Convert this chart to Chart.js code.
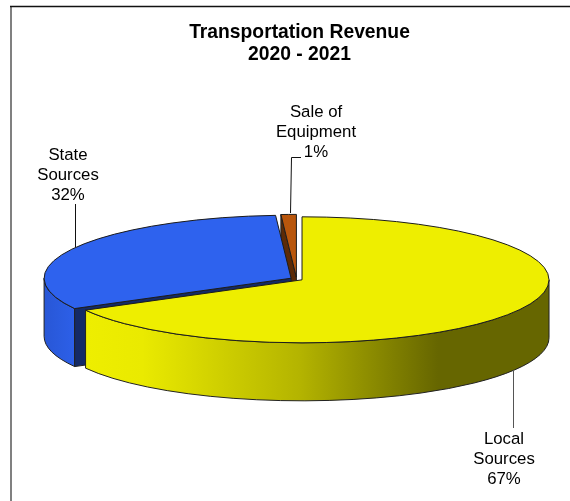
<!DOCTYPE html>
<html><head><meta charset="utf-8">
<style>html,body{margin:0;padding:0;background:#fff}#w{width:570px;height:501px}</style>
<script src="https://cdn.jsdelivr.net/npm/chart.js@4"></script>
</head><body><div id="w"><canvas id="c" width="570" height="501"></canvas></div>
<script>
const categories = ['Local Sources','State Sources','Sale of Equipment'];
const revenueShare = [67, 32, 1];
const percentLabels = ['67%','32%','1%'];
const sliceColors = ['#eeee00','#2e62ee','#b9560c'];
const cutFaceColors = ['#666600','#142a66','#5c2a06'];
const titleLines = ['Transportation Revenue','2020 - 2021'];

const CX=296.6, CY=279, RX=247, SQ=63/247, DEPTH=58, EXPLODE=6.3;
const labelFont='16.8px "Liberation Sans", Arial, sans-serif';

function geom(a){
  const mid=(a.startAngle+a.endAngle)/2;
  return {cx:CX+Math.cos(mid)*EXPLODE, cy:CY+Math.sin(mid)*EXPLODE*SQ, rx:a.outerRadius, ry:a.outerRadius*SQ, s:a.startAngle, e:a.endAngle};
}
function wall(ctx,g,a0,a1,fill){
  ctx.beginPath();
  ctx.ellipse(g.cx,g.cy,g.rx,g.ry,0,a0,a1);
  ctx.ellipse(g.cx,g.cy+DEPTH,g.rx,g.ry,0,a1,a0,true);
  ctx.closePath();
  ctx.fillStyle=fill;ctx.fill();
  ctx.lineWidth=1;ctx.strokeStyle='#222';ctx.stroke();
}
function cutFace(ctx,g,a,fill){
  const x=g.cx+Math.cos(a)*g.rx,y=g.cy+Math.sin(a)*g.ry;
  ctx.beginPath();
  ctx.moveTo(g.cx,g.cy);ctx.lineTo(x,y);ctx.lineTo(x,y+DEPTH);ctx.lineTo(g.cx,g.cy+DEPTH);ctx.closePath();
  ctx.fillStyle=fill;ctx.fill();
  ctx.lineWidth=1;ctx.strokeStyle='#222';ctx.stroke();
}
function leader(ctx,pts,color){
  ctx.beginPath();pts.forEach((p,i)=>i?ctx.lineTo(p[0],p[1]):ctx.moveTo(p[0],p[1]));
  ctx.lineWidth=1;ctx.strokeStyle=color;ctx.stroke();
}
const pie3d={
  id:'pie3d',
  beforeDraw(chart){
    const c=chart.ctx;c.save();
    c.fillStyle='#fff';c.fillRect(0,0,570,501);
    c.strokeStyle='#808080';c.lineWidth=2;
    c.beginPath();c.moveTo(11,501);c.lineTo(11,6);c.stroke();
    c.strokeStyle='#111';c.lineWidth=1.5;
    c.beginPath();c.moveTo(10,6.5);c.lineTo(570,6.5);c.stroke();
    c.restore();
  },
  beforeDatasetDraw(chart){
    const c=chart.ctx, arcs=chart.getDatasetMeta(0).data;
    const [yel,blu,bro]=arcs, gy=geom(yel), gb=geom(blu), gr=geom(bro);
    c.save();
    cutFace(c,gr,gr.s,cutFaceColors[2]);
    const bw=c.createLinearGradient(gb.cx-gb.rx,0,gb.cx-gb.rx+40,0);
    bw.addColorStop(0,'#2857d6');bw.addColorStop(1,'#2e62ee');
    wall(c,gb,gb.s,Math.PI,bw);
    cutFace(c,gb,gb.s,cutFaceColors[1]);
    const yw=c.createLinearGradient(87,0,549,0);
    [[0,'#eeee00'],[0.12,'#eaea00'],[0.46,'#b4b400'],[0.76,'#666600'],[1,'#666600']].forEach(s=>yw.addColorStop(s[0],s[1]));
    wall(c,gy,0,gy.e,yw);
    [bro,blu,yel].forEach(a=>{
      const g=geom(a);
      c.save();
      c.translate(g.cx,g.cy);c.scale(1,SQ);c.translate(-a.x,-a.y);
      a.draw(c);
      c.restore();
      c.beginPath();
      c.moveTo(g.cx,g.cy);c.ellipse(g.cx,g.cy,g.rx,g.ry,0,g.s,g.e);c.closePath();
      c.lineWidth=1;c.strokeStyle='#1c1c1c';c.stroke();
    });
    c.restore();
    return false;
  },
  afterDraw(chart){
    const c=chart.ctx;c.save();
    leader(c,[[75.5,204],[75.5,247]],'#111');
    leader(c,[[301,157.5],[291.5,157.5],[290.5,213]],'#111');
    leader(c,[[513.5,370],[513.5,428]],'#555');
    c.font=labelFont;c.fillStyle='#000';c.textAlign='center';c.textBaseline='middle';
    const place=[[504,439,459,479,0],[68,155,175,195,1],[316,112,132,152,2]];
    place.forEach(p=>{
      const words=categories[p[4]].split(' ');
      const l=p[4]===2?['Sale of','Equipment']:words;
      c.fillText(l[0],p[0],p[1]);c.fillText(l[1],p[0],p[2]);c.fillText(percentLabels[p[4]],p[0],p[3]);
    });
    c.restore();
  }
};
new Chart(document.getElementById('c'),{
  type:'pie',
  data:{labels:categories,datasets:[{data:revenueShare,backgroundColor:sliceColors,borderWidth:0,clip:false}]},
  options:{
    responsive:false,animation:false,radius:RX,
    layout:{padding:{left:29,right:0,top:22,bottom:0}},
    plugins:{
      legend:{display:false},tooltip:{enabled:false},
      title:{display:true,text:titleLines,color:'#000',font:{family:'"Liberation Sans", Arial, sans-serif',size:19.3,weight:'bold',lineHeight:1.14},padding:0}
    }
  },
  plugins:[pie3d]
});
</script></body></html>
